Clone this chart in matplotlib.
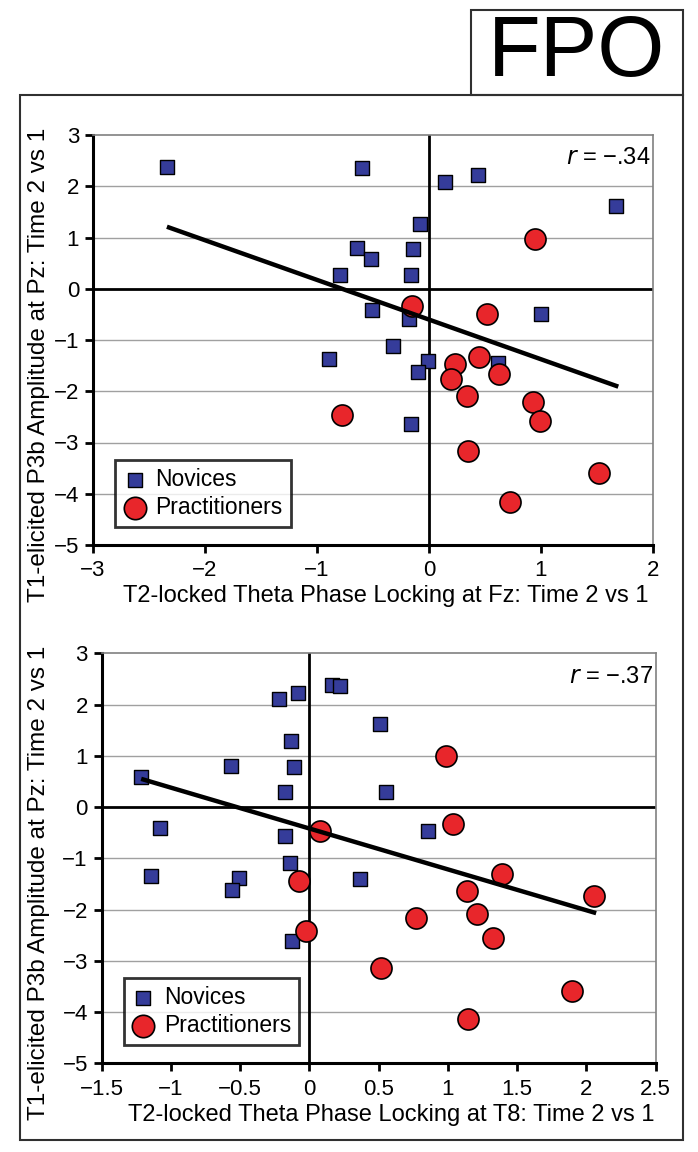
import numpy as np
import matplotlib
matplotlib.use("Agg")
import matplotlib.pyplot as plt
from matplotlib.patches import Rectangle

plt.rcParams['font.family'] = ['Liberation Sans', 'DejaVu Sans']
plt.rcParams['axes.unicode_minus'] = True

# Panel A (Fz)
fz_nov_x = [-2.34, -0.60, -0.646, -0.518, -0.795, -0.506, -0.89, 0.143, 0.44, 1.67,
            -0.08, -0.14, -0.163, -0.176, 1.0, -0.324, -0.01, -0.096, 0.613, -0.161]
fz_nov_y = [2.37, 2.35, 0.79, 0.575, 0.27, -0.415, -1.37, 2.09, 2.21, 1.61,
            1.26, 0.77, 0.27, -0.59, -0.49, -1.12, -1.40, -1.63, -1.44, -2.63]
fz_pra_x = [-0.774, 0.946, -0.149, 0.52, 0.232, 0.45, 0.625, 0.196, 0.336, 0.926,
            0.988, 0.345, 1.518, 0.723]
fz_pra_y = [-2.46, 0.98, -0.33, -0.49, -1.47, -1.33, -1.66, -1.77, -2.10, -2.20,
            -2.58, -3.17, -3.60, -4.17]
fz_fit_x = [-2.34, 1.69]
fz_fit_y = [1.21, -1.91]

# Panel B (T8)
t8_nov_x = [-1.215, -0.565, -0.221, -0.082, 0.161, 0.224, 0.51, -0.13, -0.108, -0.173,
            0.556, -1.076, -0.173, -0.137, -1.141, -0.51, -0.558, 0.363, -0.128, 0.857]
t8_nov_y = [0.59, 0.80, 2.11, 2.22, 2.39, 2.37, 1.63, 1.28, 0.78, 0.29,
            0.29, -0.40, -0.56, -1.09, -1.35, -1.39, -1.61, -1.41, -2.61, -0.47]
t8_pra_x = [0.079, -0.072, -0.024, 0.52, 0.987, 1.035, 1.391, 1.136, 2.056, 1.213,
            0.77, 1.324, 1.897, 1.143]
t8_pra_y = [-0.47, -1.45, -2.42, -3.14, 0.99, -0.33, -1.30, -1.63, -1.74, -2.08,
            -2.17, -2.55, -3.58, -4.14]
t8_fit_x = [-1.215, 2.07]
t8_fit_y = [0.55, -2.07]

y_ticks = np.arange(-5, 4, 1)
fz_xticks = np.arange(-3, 3, 1)
t8_xticks = np.arange(-1.5, 3.0, 0.5)

ylabel = 'T1-elicited P3b Amplitude at Pz: Time 2 vs 1'
SQ_COLOR = '#353c9a'
CI_COLOR = '#e8262b'


def fmt_tick(v):
    s = ('%g' % v)
    return s.replace('-', '\u2212')


def drawPanel(ax, nov_x, nov_y, pra_x, pra_y, fit_x, fit_y, xticks, xlim, xlabel, r_text):
    ax.set_xlim(*xlim)
    ax.set_ylim(-5, 3)
    for yv in y_ticks:
        if yv not in (0, -5, 3):
            ax.axhline(yv, color='#a0a0a0', lw=1.0, zorder=1)
    ax.axhline(0, color='black', lw=2.0, zorder=2)
    ax.axvline(0, color='black', lw=2.0, zorder=2)

    ax.plot(fit_x, fit_y, color='black', lw=3.2, zorder=5, solid_capstyle='butt')
    ax.scatter(nov_x, nov_y, marker='s', s=110, color=SQ_COLOR, edgecolors='black',
               linewidths=1.0, zorder=4, label='Novices')
    ax.scatter(pra_x, pra_y, marker='o', s=230, color=CI_COLOR, edgecolors='black',
               linewidths=1.2, zorder=4, label='Practitioners')

    ax.set_xticks(xticks)
    ax.set_xticklabels([fmt_tick(v) for v in xticks])
    ax.set_yticks(y_ticks)
    ax.set_yticklabels([fmt_tick(v) for v in y_ticks])
    ax.tick_params(axis='both', direction='out', length=6, width=2, labelsize=16,
                   colors='black', pad=4)
    ax.tick_params(axis='x', pad=5)

    for side in ('top', 'right'):
        ax.spines[side].set_color('#808080')
        ax.spines[side].set_linewidth(1.2)
    for side in ('left', 'bottom'):
        ax.spines[side].set_color('black')
        ax.spines[side].set_linewidth(2.2)

    ax.set_xlabel(xlabel, fontsize=17, labelpad=3)
    ax.xaxis.label.set_x(0.522)
    ax.text(0.995, 0.97, r_text, transform=ax.transAxes, ha='right', va='top', fontsize=17)

    leg = ax.legend(loc='lower left', bbox_to_anchor=(0.04, 0.045), fontsize=16.5,
                    frameon=True, fancybox=False, handletextpad=0.4, borderpad=0.35,
                    labelspacing=0.2, handlelength=1.0, borderaxespad=0)
    leg.get_frame().set_edgecolor('black')
    leg.get_frame().set_linewidth(2.0)
    leg.legend_handles[0].set_sizes([90])
    leg.legend_handles[1].set_sizes([260])


fig = plt.figure(figsize=(6.98, 11.52), dpi=100)

W, H = 698.0, 1152.0
ax1 = fig.add_axes([93 / W, 1 - 545 / H, 560 / W, 410 / H])
ax2 = fig.add_axes([101.7 / W, 1 - 1063.3 / H, 554 / W, 410 / H])

drawPanel(ax1, fz_nov_x, fz_nov_y, fz_pra_x, fz_pra_y, fz_fit_x, fz_fit_y,
          fz_xticks, (-3, 2), 'T2-locked Theta Phase Locking at Fz: Time 2 vs 1',
          '$r$ = \u2212.34')
drawPanel(ax2, t8_nov_x, t8_nov_y, t8_pra_x, t8_pra_y, t8_fit_x, t8_fit_y,
          t8_xticks, (-1.5, 2.5), 'T2-locked Theta Phase Locking at T8: Time 2 vs 1',
          '$r$ = \u2212.37')

fig.text(39 / W, 1 - 365 / H, ylabel, rotation=90, ha='center', va='center', fontsize=17.5)
fig.text(39 / W, 1 - 883 / H, ylabel, rotation=90, ha='center', va='center', fontsize=17.5)

# outer frame and FPO box
fig.patches.append(Rectangle((20 / W, 1 - 1140 / H), 663 / W, 1045 / H, transform=fig.transFigure,
                             fill=False, edgecolor='#303030', lw=1.5))
fig.patches.append(Rectangle((471 / W, 1 - 95 / H), 212 / W, 85 / H, transform=fig.transFigure,
                             fill=False, edgecolor='#303030', lw=1.5))
fig.text(577 / W, 1 - 54 / H, 'FPO', ha='center', va='center', fontsize=62)

fig.savefig('out.png', dpi=100)
